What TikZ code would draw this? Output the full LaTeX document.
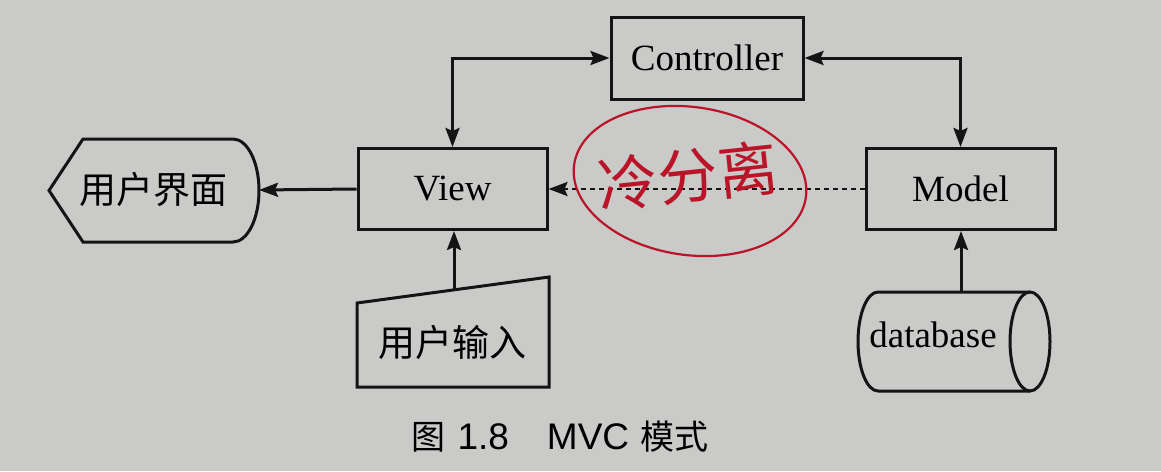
\documentclass[tikz,border=0pt]{standalone}
\usepackage{fontspec}
\setmainfont{Liberation Serif}
\newfontfamily\cjk{Noto Sans CJK SC}
\newfontfamily\capfont{Liberation Sans}
\usetikzlibrary{arrows.meta}
\definecolor{paper}{RGB}{202,202,200}
\definecolor{ink}{RGB}{20,20,20}
\definecolor{pen}{RGB}{185,20,40}
\begin{document}
\begin{tikzpicture}[x=1pt,y=-1pt,
  line width=3pt, draw=ink,
  >={Stealth[length=19pt,width=14pt,inset=3pt]},
  blk/.style={draw=ink, line width=3pt, rectangle, inner sep=0pt, font=\fontsize{37}{40}\selectfont},
  lbl/.style={inner sep=0pt, font=\fontsize{37}{40}\selectfont},
  conn/.style={draw=ink, line width=3pt}]
\fill[paper] (0,0) rectangle (1161,471);
\useasboundingbox (0,0) rectangle (1161,471);
% boxes
\node[blk, minimum width=192pt, minimum height=82pt] (ctrl) at (707,58) {Controller};
\node[blk, minimum width=189pt, minimum height=81pt] (view) at (452.5,189) {View};
\node[blk, minimum width=189pt, minimum height=81pt] (model) at (960.5,189) {Model};
% user interface shape
\draw (83,139) -- (233,139) arc[start angle=-90, end angle=90, x radius=26, y radius=51.5] -- (83,242) -- (49,190.5) -- cycle;
\coordinate (uiE) at (259,190);
\node[lbl] (ui) at (153,189) {\cjk 用户界面};
% user input shape
\draw (357,303) -- (549,277) -- (549,387) -- (357,387) -- cycle;
\coordinate (inTop) at (454,290);
\node[lbl] (input) at (452,342) {\cjk 用户输入};
% database cylinder
\draw (1030,292) -- (878,292) arc[start angle=-90, end angle=-270, x radius=20, y radius=49.5] -- (1030,391);
\draw (1030,341.5) ellipse[x radius=20, y radius=49.5];
\coordinate (dbTop) at (961,292);
\node[lbl] (db) at (933,335) {database};
% connectors
\draw[conn,<->] (view.north) |- (ctrl.west);
\draw[conn,<->] (model.north) |- (ctrl.east);
\draw[conn,->] (view.west) -- (uiE);
\draw[conn,->] (inTop) -- (view.south -| inTop);
\draw[conn,->] (dbTop) -- (model.south -| dbTop);
\draw[conn,->,dash pattern=on 5pt off 4pt, line width=2.6pt] (model.west) -- (view.east);
% handwritten annotation
\draw[pen, line width=2.2pt, rotate around={-8:(690,181)}] (690,181) ellipse[x radius=117, y radius=74];
\node[text=pen, inner sep=0pt, rotate=6, font=\fontsize{60}{62}\selectfont\cjk] (note) at (688,176) {冷分离};
% caption
\node[inner sep=0pt, anchor=west] (cap) at (410,437) {\fontsize{34}{36}\selectfont\cjk 图\hspace{12pt}{\capfont\fontsize{37}{38}\selectfont 1.8}\hspace{38pt}{\capfont\fontsize{37}{38}\selectfont MVC}\hspace{11pt}模式};
\end{tikzpicture}
\end{document}
